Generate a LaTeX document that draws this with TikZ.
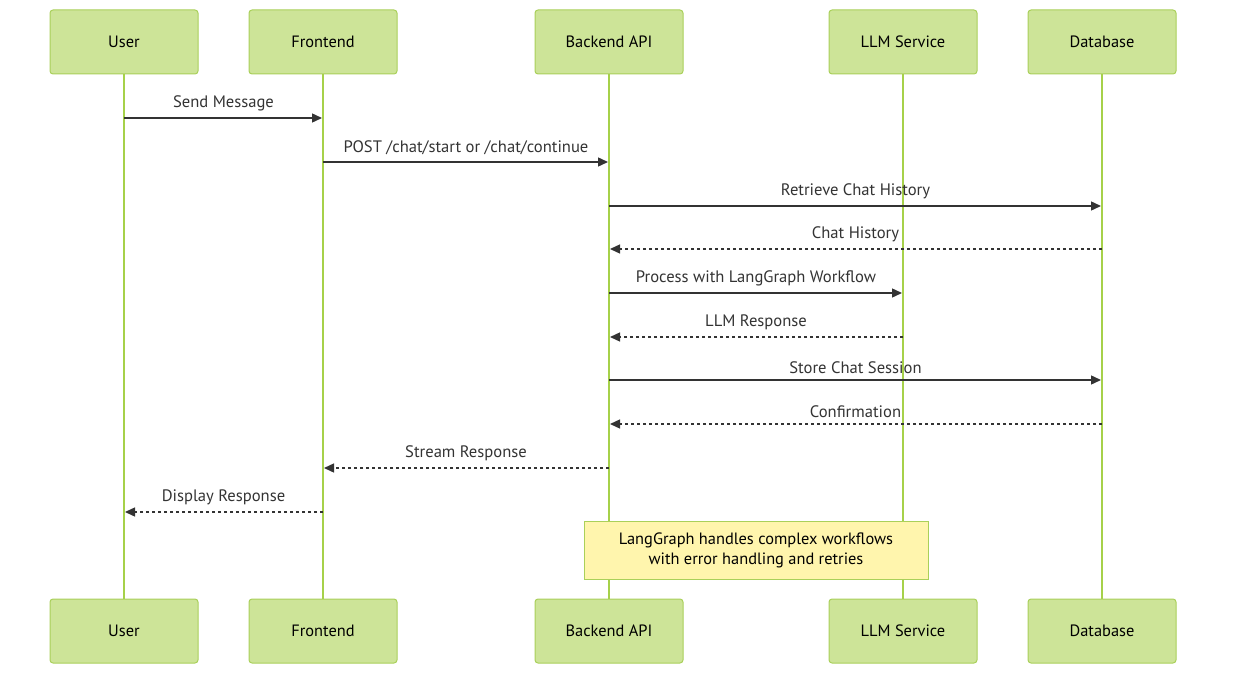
\documentclass[tikz,border=0pt]{standalone}
\usepackage{fontspec}
\setmainfont{PT Sans}
\usetikzlibrary{arrows.meta}
\definecolor{actfill}{HTML}{CDE498}
\definecolor{actdraw}{HTML}{A9D05A}
\definecolor{lifeln}{HTML}{A6D14A}
\definecolor{notefill}{HTML}{FFF5AD}
\definecolor{notedraw}{HTML}{AAD05A}
\definecolor{msgc}{HTML}{333333}
\tikzset{
  actor/.style={draw=actdraw, fill=actfill, line width=1pt, rounded corners=3pt,
    minimum width=148pt, minimum height=64pt, font=\fontsize{16.4}{19}\selectfont, inner sep=0pt},
  life/.style={draw=lifeln, line width=1.6pt},
  msg/.style={draw=msgc, line width=1.4pt, -{Triangle[length=10pt,width=9pt]}, shorten >=1pt},
  reply/.style={msg, dash pattern=on 3pt off 3pt},
  lbl/.style={font=\fontsize{16.6}{19}\selectfont, text=msgc, inner sep=0pt},
  note/.style={draw=notedraw, fill=notefill, line width=1pt, minimum width=344pt, minimum height=58pt,
    align=center, font=\fontsize{16.4}{20}\selectfont, inner sep=0pt}
}
\begin{document}
\begin{tikzpicture}[x=1pt,y=-1pt]
\useasboundingbox (0,0) rectangle (1234,679);
% actors top
\node[actor] (uT) at (124,42) {User};
\node[actor] (fT) at (323,42) {Frontend};
\node[actor] (bT) at (609,42) {Backend API};
\node[actor] (lT) at (903,42) {LLM Service};
\node[actor] (dT) at (1102,42) {Database};
% actors bottom
\node[actor] (uB) at (124,631) {User};
\node[actor] (fB) at (323,631) {Frontend};
\node[actor] (bB) at (609,631) {Backend API};
\node[actor] (lB) at (903,631) {LLM Service};
\node[actor] (dB) at (1102,631) {Database};
% lifelines
\draw[life] (uT.south) -- (uB.north);
\draw[life] (fT.south) -- (fB.north);
\draw[life] (bT.south) -- (bB.north);
\draw[life] (lT.south) -- (lB.north);
\draw[life] (dT.south) -- (dB.north);
% message anchor coordinates
\coordinate (u1) at (124,118); \coordinate (f1) at (323,118);
\coordinate (f2) at (323,162); \coordinate (b2) at (609,162);
\coordinate (b3) at (609,206); \coordinate (d3) at (1102,206);
\coordinate (d4) at (1102,249); \coordinate (b4) at (609,249);
\coordinate (b5) at (609,293); \coordinate (l5) at (903,293);
\coordinate (l6) at (903,337); \coordinate (b6) at (609,337);
\coordinate (b7) at (609,380); \coordinate (d7) at (1102,380);
\coordinate (d8) at (1102,424); \coordinate (b8) at (609,424);
\coordinate (b9) at (609,468); \coordinate (f9) at (323,468);
\coordinate (f10) at (323,512); \coordinate (u10) at (124,512);
% messages
\draw[msg] (u1) -- node[lbl, above=6pt] {Send Message} (f1);
\draw[msg] (f2) -- node[lbl, above=6pt] {POST /chat/start or /chat/continue} (b2);
\draw[msg] (b3) -- node[lbl, above=6pt] {Retrieve Chat History} (d3);
\draw[reply] (d4) -- node[lbl, above=6pt] {Chat History} (b4);
\draw[msg] (b5) -- node[lbl, above=6pt] {Process with LangGraph Workflow} (l5);
\draw[reply] (l6) -- node[lbl, above=6pt] {LLM Response} (b6);
\draw[msg] (b7) -- node[lbl, above=6pt] {Store Chat Session} (d7);
\draw[reply] (d8) -- node[lbl, above=6pt] {Confirmation} (b8);
\draw[reply] (b9) -- node[lbl, above=6pt] {Stream Response} (f9);
\draw[reply] (f10) -- node[lbl, above=6pt] {Display Response} (u10);
% note
\node[note] (n1) at (756,550) {LangGraph handles complex workflows\\with error handling and retries};
\end{tikzpicture}
\end{document}
